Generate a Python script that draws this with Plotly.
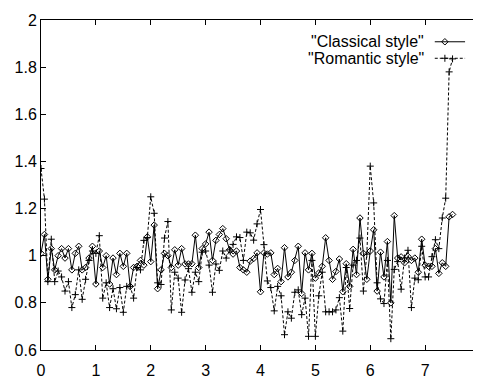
import plotly.graph_objects as go

classical = [
    1.01, 1.09, 0.90, 1.03, 0.94, 1.00, 1.03, 0.99, 1.03, 0.94,
    1.01, 1.04, 0.94, 0.95, 0.99, 1.04, 0.88, 1.02, 0.95, 1.00,
    0.88, 0.99, 0.92, 1.01, 0.955, 1.01, 0.87, 0.95, 0.955, 0.98,
    0.96, 1.08, 0.975, 1.13, 0.86, 0.94, 1.01, 1.00, 0.95, 1.025,
    0.96, 1.03, 0.965, 0.965, 0.966, 1.087, 0.95, 1.03, 1.05, 1.10,
    0.98, 1.065, 1.09, 1.115, 1.072, 1.025, 1.007, 1.02, 0.95, 0.94,
    0.93, 0.977, 0.988, 1.012, 0.847, 1.012, 1.007, 1.012, 0.92, 0.946,
    0.89, 1.034, 0.91, 0.93, 0.98, 1.04, 0.84, 1.012, 0.94, 1.01,
    0.905, 0.927, 0.955, 1.076, 0.98, 0.90, 0.933, 0.986, 0.847, 0.966,
    0.87, 1.027, 0.92, 1.16, 1.01, 0.90, 1.02, 1.11, 0.85, 1.015,
    0.91, 1.06, 0.80, 1.17, 0.99, 0.995, 0.97, 0.997, 0.98, 0.99,
    0.93, 1.07, 0.96, 0.955, 0.955, 1.03, 0.925, 0.97, 0.955, 1.165,
    1.175,
]
romantic = [
    1.37, 1.24, 0.89, 1.07, 0.89, 0.935, 0.91, 0.85, 0.89, 0.78,
    0.835, 0.94, 0.815, 0.90, 0.98, 1.02, 1.01, 1.085, 0.82, 0.885,
    0.78, 0.86, 0.775, 0.865, 0.76, 0.87, 0.87, 0.82, 0.95, 0.94,
    1.065, 1.077, 1.25, 1.18, 0.885, 0.878, 1.075, 1.145, 0.77, 0.93,
    0.905, 0.76, 0.897, 0.945, 0.845, 0.93, 0.89, 1.015, 1.02, 0.96,
    0.845, 0.965, 0.938, 1.02, 0.99, 1.025, 1.048, 1.08, 1.077, 0.98,
    1.10, 1.097, 1.066, 1.135, 1.196, 1.047, 0.893, 0.865, 0.766, 0.87,
    0.83, 0.665, 0.762, 0.735, 0.845, 0.855, 0.75, 0.82, 0.658, 0.98,
    0.658, 0.83, 0.93, 0.762, 0.762, 0.762, 0.77, 0.822, 0.68, 0.95,
    0.776, 0.96, 0.98, 1.075, 0.85, 1.007, 1.38, 1.224, 0.885, 0.817,
    0.797, 0.98, 0.648, 0.942, 0.975, 0.858, 0.99, 1.023, 0.78, 0.905,
    0.898, 1.04, 0.91, 0.91, 0.996, 1.068, 1.03, 1.16, 1.244, 1.78,
    1.835,
]
STEP = 1 / 16
x = [i * STEP for i in range(len(classical))]

series_names = ['"Classical style"', '"Romantic style"']
x_ticks = [0, 1, 2, 3, 4, 5, 6, 7, 8]
y_ticks = [0.6, 0.8, 1.0, 1.2, 1.4, 1.6, 1.8, 2.0]
y_ticklabels = ["0.6", "0.8", "1", "1.2", "1.4", "1.6", "1.8", "2"]

FONT = "Liberation Sans, Arial, Helvetica, sans-serif"
DIAMOND = dict(symbol="diamond-open", size=5, color="black",
               line=dict(color="black", width=1))
PLUS = dict(symbol="cross-thin", size=5, color="black",
            line=dict(color="black", width=1))

fig = go.Figure()

fig.add_trace(go.Scatter(
    x=x, y=classical, mode="lines+markers", name=series_names[0],
    line=dict(color="black", width=1), marker=DIAMOND, showlegend=False,
))
fig.add_trace(go.Scatter(
    x=x, y=romantic, mode="lines+markers", name=series_names[1],
    line=dict(color="black", width=1, dash="3px,2px"), marker=PLUS,
    showlegend=False,
))

# gnuplot-style key (text right-aligned, sample to the right) on an overlay axis
key_rows = [0.934, 0.884]
key_x = [0.897, 0.966]
key_mark = 0.92
for ry, dash, mk in zip(key_rows, ["solid", "3px,2px"], [DIAMOND, PLUS]):
    fig.add_trace(go.Scatter(
        x=key_x, y=[ry, ry], mode="lines",
        line=dict(color="black", width=1, dash=dash), xaxis="x2", yaxis="y2",
        showlegend=False, hoverinfo="skip"))
    fig.add_trace(go.Scatter(
        x=[key_mark], y=[ry], mode="markers", marker=mk,
        xaxis="x2", yaxis="y2", showlegend=False, hoverinfo="skip"))

annotations = []
for name, ry in zip(series_names, key_rows):
    annotations.append(dict(
        text=name, x=0.877, y=ry, xref="paper", yref="paper",
        xanchor="right", yanchor="middle", showarrow=False,
        font=dict(family=FONT, size=16, color="black")))

axis_common = dict(
    ticks="inside", ticklen=5, tickwidth=1, tickcolor="black",
    showline=True, linecolor="black", linewidth=1, mirror="ticks",
    showgrid=False, zeroline=False, automargin=False,
    ticklabeloverflow="allow",
    tickfont=dict(family=FONT, size=16, color="black"),
)

# page body has an 8px default margin, so the figure is sized to fit the window
fig.update_layout(
    width=473, height=379,
    margin=dict(l=33, r=1, t=12, b=37, autoexpand=False),
    paper_bgcolor="white", plot_bgcolor="white",
    font=dict(family=FONT, size=16, color="black"),
    annotations=annotations,
    xaxis=dict(range=[0, 8], tickvals=x_ticks,
               ticktext=[str(v) for v in x_ticks], ticklabelstandoff=6,
               **axis_common),
    yaxis=dict(range=[0.6, 2.0], tickvals=y_ticks, ticktext=y_ticklabels,
               **axis_common),
    xaxis2=dict(range=[0, 1], overlaying="x", visible=False, fixedrange=True),
    yaxis2=dict(range=[0, 1], overlaying="y", visible=False, fixedrange=True),
)

fig.write_html("out.html")
